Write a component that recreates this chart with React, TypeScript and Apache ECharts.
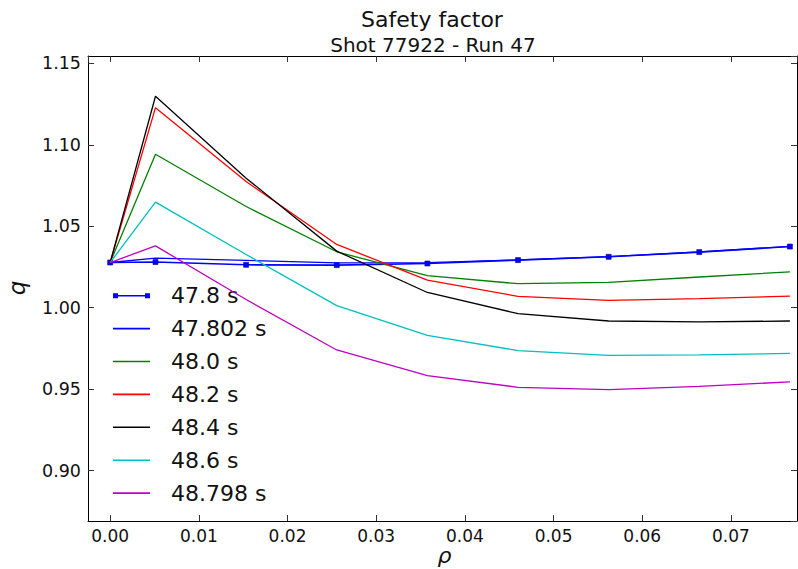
import React, { useEffect, useRef } from "react";
import * as echarts from "echarts";

const rho = [0, 0.00511, 0.01533, 0.02555, 0.03577, 0.04599, 0.05621, 0.06643, 0.07665];
const q478 = [1.0277, 1.028, 1.0263, 1.0261, 1.0271, 1.0292, 1.0312, 1.0341, 1.0375];
const q47802 = [1.0277, 1.0304, 1.029, 1.0275, 1.0276, 1.0293, 1.0313, 1.0342, 1.0376];
const q480 = [1.0277, 1.0942, 1.0621, 1.0343, 1.0196, 1.0147, 1.0155, 1.0188, 1.022];
const q482 = [1.0277, 1.1228, 1.0774, 1.0388, 1.0169, 1.0069, 1.0044, 1.0055, 1.0071];
const q484 = [1.0277, 1.1298, 1.0795, 1.0347, 1.0093, 0.9963, 0.9918, 0.9912, 0.9918];
const q486 = [1.0277, 1.0648, 1.0326, 1.0012, 0.983, 0.9736, 0.9707, 0.971, 0.9719];
const q48798 = [1.0277, 1.0379, 1.005, 0.974, 0.9583, 0.9511, 0.9497, 0.9517, 0.9544];

const seriesNames = ["47.8 s", "47.802 s", "48.0 s", "48.2 s", "48.4 s", "48.6 s", "48.798 s"];
const seriesValues = [q478, q47802, q480, q482, q484, q486, q48798];
const seriesColors = ["#0000ff", "#0000ff", "#008000", "#ff0000", "#000000", "#00bfbf", "#bf00bf"];

const titleText = "Safety factor";
const subtitleText = "Shot 77922 - Run 47";

const FONT = "DejaVu Sans";

export default function App() {
  const ref = useRef<HTMLDivElement>(null);

  useEffect(() => {
    if (!ref.current) return;
    const chart = echarts.init(ref.current, undefined, { renderer: "svg" });

    const markerIcon = "path://M0,0H5V5H0Z M5,1.8H32V3.2H5Z M32,0H37V5H32Z";
    const lineIcon = "path://M0,0H33V1.4H0Z";

    const series = seriesNames.map((name, i) => {
      const withMarker = i === 0;
      return {
        name,
        type: "line",
        xAxisIndex: 0,
        yAxisIndex: 0,
        data: rho.map((x, k) => [x, seriesValues[i][k]]),
        symbol: withMarker ? "rect" : "none",
        showSymbol: withMarker,
        symbolSize: 5,
        clip: true,
        lineStyle: { color: seriesColors[i], width: withMarker ? 1.6 : 1.3 },
        itemStyle: withMarker
          ? { color: "#0000ff", borderColor: "#000080", borderWidth: 0.6 }
          : { color: seriesColors[i] },
        emphasis: { disabled: true },
        z: 2 + i,
      };
    });

    const axisCommon = {
      type: "value",
      splitLine: { show: false },
      axisLine: { show: true, onZero: false, lineStyle: { color: "#000", width: 1 } },
      axisTick: { show: true, inside: true, length: 6, lineStyle: { color: "#333", width: 1 } },
    };

    chart.setOption({
      animation: false,
      backgroundColor: "#ffffff",
      grid: { left: 88, right: 1, top: 56, bottom: 48, containLabel: false },
      xAxis: [
        {
          ...axisCommon,
          position: "bottom",
          min: -0.0025,
          max: 0.07745,
          splitNumber: 8,
          axisLabel: {
            show: true,
            margin: 6,
            color: "#111",
            fontFamily: FONT,
            fontSize: 17,
            showMinLabel: false,
            showMaxLabel: false,
            formatter: (v: number) => v.toFixed(2),
          },
        },
        {
          ...axisCommon,
          position: "top",
          min: -0.0025,
          max: 0.07745,
          splitNumber: 8,
          axisLabel: { show: false },
        },
      ],
      yAxis: [
        {
          ...axisCommon,
          position: "left",
          min: 0.869,
          max: 1.1545,
          splitNumber: 6,
          axisLabel: {
            show: true,
            margin: 7,
            color: "#111",
            fontFamily: FONT,
            fontSize: 17.5,
            showMinLabel: false,
            showMaxLabel: false,
            formatter: (v: number) => v.toFixed(2),
          },
        },
        {
          ...axisCommon,
          position: "right",
          min: 0.869,
          max: 1.1545,
          splitNumber: 6,
          axisLabel: { show: false },
        },
      ],
      legend: {
        show: true,
        orient: "vertical",
        left: 113,
        top: 284.7,
        padding: 0,
        itemWidth: 37,
        itemHeight: 22,
        itemGap: 10.9,
        selectedMode: false,
        textStyle: {
          fontFamily: FONT,
          fontSize: 22,
          lineHeight: 22,
          color: "#111",
          padding: [0, 0, 0, 16],
        },
        data: seriesNames.map((name, i) => ({
          name,
          icon: i === 0 ? markerIcon : lineIcon,
          itemStyle: { color: seriesColors[i], borderWidth: 0 },
        })),
      },
      graphic: [
        {
          type: "text",
          x: 432,
          y: 19.4,
          style: {
            text: titleText,
            fontFamily: FONT,
            fontSize: 22,
            fill: "#111",
            textAlign: "center",
            textVerticalAlign: "middle",
          },
        },
        {
          type: "text",
          x: 433,
          y: 45.3,
          style: {
            text: subtitleText,
            fontFamily: FONT,
            fontSize: 20,
            fill: "#111",
            textAlign: "center",
            textVerticalAlign: "middle",
          },
        },
        {
          type: "text",
          x: 444.5,
          y: 555,
          style: {
            text: "ρ",
            fontFamily: FONT,
            fontStyle: "italic",
            fontSize: 22,
            fill: "#111",
            textAlign: "center",
            textVerticalAlign: "middle",
          },
        },
        {
          type: "text",
          x: 17,
          y: 288,
          rotation: Math.PI / 2,
          style: {
            text: "q",
            fontFamily: FONT,
            fontStyle: "italic",
            fontSize: 23,
            fill: "#111",
            textAlign: "center",
            textVerticalAlign: "middle",
          },
        },
      ],
      series,
    });

    return () => {
      chart.dispose();
    };
  }, []);

  return (
    <div
      ref={ref}
      style={{ position: "absolute", left: 0, top: 0, width: 798, height: 569, background: "#fff" }}
    />
  );
}
